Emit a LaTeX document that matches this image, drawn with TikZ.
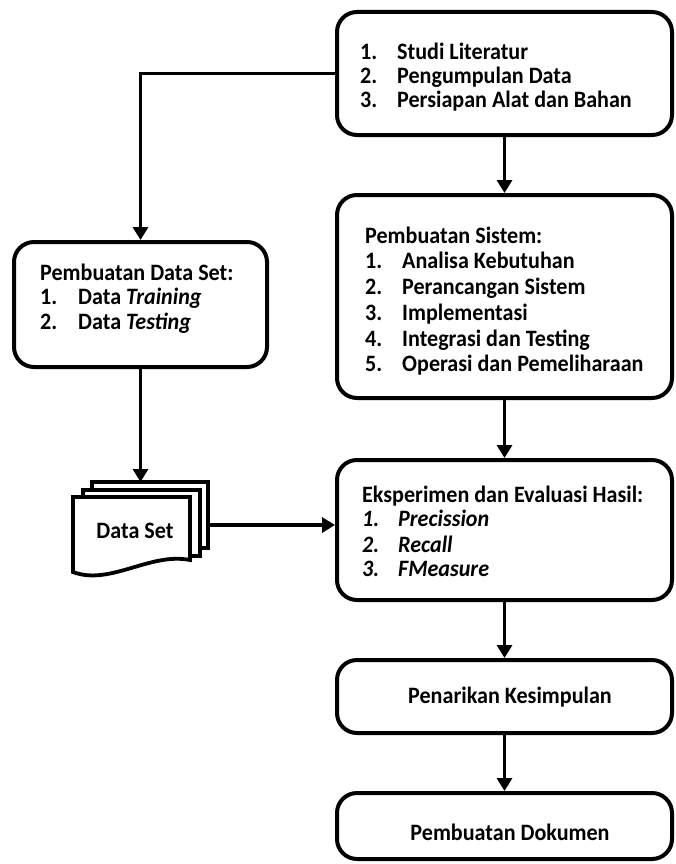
\documentclass[tikz,border=0pt]{standalone}
\usepackage{fontspec}
\setmainfont{Carlito}[FakeStretch=0.94]
\usetikzlibrary{arrows.meta}
\newcommand\lineitem[3]{\makebox[#1][l]{#2}#3}
\begin{document}
\begin{tikzpicture}[x=1pt,y=-1pt,
  box/.style={draw, line width=4pt, rounded corners=20pt, fill=white, inner sep=0pt},
  lbl/.style={anchor=base west, inner sep=0pt, font=\fontsize{23.5}{26}\selectfont\bfseries},
  ctr/.style={anchor=base, inner sep=0pt, font=\fontsize{23.5}{26}\selectfont\bfseries},
  conn/.style={line width=3.8pt, -{Triangle[width=15pt,length=13pt]}},
  sheet/.style={draw, line width=3.8pt, fill=white, line join=miter}]
\useasboundingbox (0,0) rectangle (675,864);

% boxes
\node[box, minimum width=335pt, minimum height=123pt] (b1) at (504.5,73.5) {};
\node[box, minimum width=335pt, minimum height=203pt] (b2) at (504.5,296.5) {};
\node[box, minimum width=253pt, minimum height=125pt] (ds) at (140.5,304.5) {};
\node[box, minimum width=335pt, minimum height=140pt] (b4) at (504.5,530) {};
\node[box, minimum width=335pt, minimum height=73pt] (b5) at (504.5,696.5) {};
\node[box, minimum width=335pt, minimum height=66pt] (b6) at (504.5,826) {};

% data set (multi-document)
\draw[sheet] (92,548) -- (92,482) -- (208,482) -- (208,548) -- cycle;
\draw[sheet] (83,556) -- (83,490) -- (200,490) -- (200,556) -- cycle;
\draw[sheet] (73,572) -- (73,497) -- (190,497) -- (190,560)
  .. controls (150,552) and (110,586) .. (73,572) -- cycle;
\coordinate (dstop) at (140.5,482);
\coordinate (dsright) at (208,525);
\node[ctr] (dstext) at (135,538) {Data Set};

% texts box 1
\node[lbl] (t11) at (360,60) {\lineitem{37pt}{1.}{Studi Literatur}};
\node[lbl] (t12) at (360,84) {\lineitem{37pt}{2.}{Pengumpulan Data}};
\node[lbl] (t13) at (360,108) {\lineitem{37pt}{3.}{Persiapan Alat dan Bahan}};

% texts box 2
\node[lbl] (t20) at (365,243) {Pembuatan Sistem:};
\node[lbl] (t21) at (365,268) {\lineitem{37pt}{1.}{Analisa Kebutuhan}};
\node[lbl] (t22) at (365,294) {\lineitem{37pt}{2.}{Perancangan Sistem}};
\node[lbl] (t23) at (365,320) {\lineitem{37pt}{3.}{Implementasi}};
\node[lbl] (t24) at (365,346) {\lineitem{37pt}{4.}{Integrasi dan Testing}};
\node[lbl] (t25) at (365,371) {\lineitem{37pt}{5.}{Operasi dan Pemeliharaan}};

% texts left box
\node[lbl] (t30) at (40,280) {Pembuatan Data Set:};
\node[lbl] (t31) at (40,304) {\lineitem{38pt}{1.}{Data \textit{Training}}};
\node[lbl] (t32) at (40,329) {\lineitem{38pt}{2.}{Data \textit{Testing}}};

% texts box 4
\node[lbl] (t40) at (362,502) {Eksperimen dan Evaluasi Hasil:};
\node[lbl, font=\fontsize{23.5}{26}\selectfont\bfseries\itshape] (t41) at (362,526) {\lineitem{36pt}{1.}{Precission}};
\node[lbl, font=\fontsize{23.5}{26}\selectfont\bfseries\itshape] (t42) at (362,552) {\lineitem{36pt}{2.}{Recall}};
\node[lbl, font=\fontsize{23.5}{26}\selectfont\bfseries\itshape] (t43) at (362,576) {\lineitem{36pt}{3.}{FMeasure}};

% texts box 5, 6
\node[ctr] (t5) at (510,703) {Penarikan Kesimpulan};
\node[ctr] (t6) at (510,840) {Pembuatan Dokumen};

% connectors
\draw[conn] (b1.south) -- (b2.north);
\draw[conn] (b1.west) -| (ds.north);
\draw[conn] (ds.south) -- (dstop);
\draw[conn] (dsright) -- (dsright -| b4.west);
\draw[conn] (b2.south) -- (b4.north);
\draw[conn] (b4.south) -- (b5.north);
\draw[conn] (b5.south) -- (b6.north);
\end{tikzpicture}
\end{document}
